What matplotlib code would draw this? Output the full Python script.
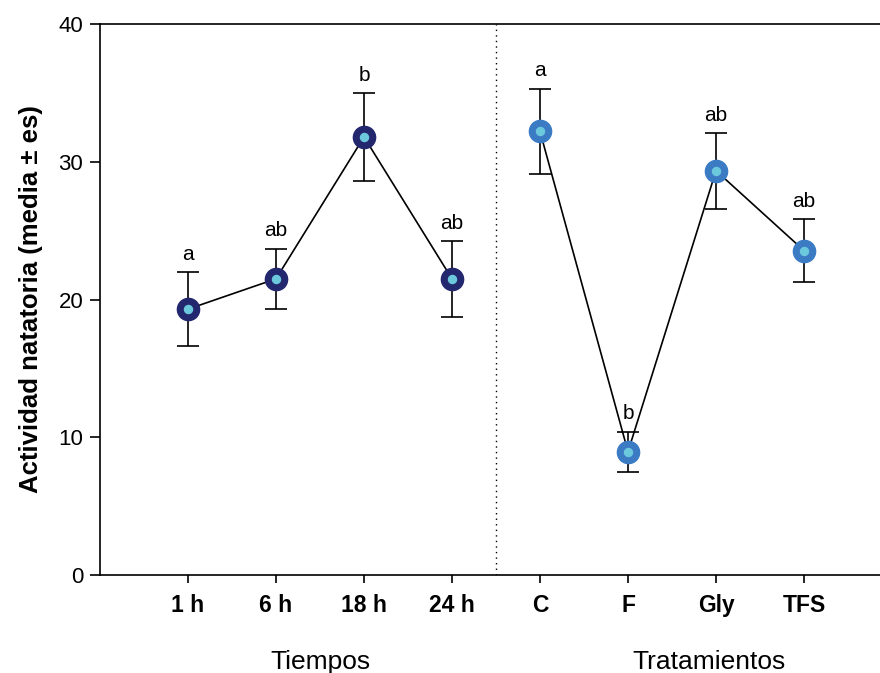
import matplotlib
matplotlib.use("Agg")
import matplotlib.pyplot as plt

plt.rcParams['font.family'] = ['Liberation Sans', 'DejaVu Sans']

tiempos = ["1 h", "6 h", "18 h", "24 h"]
tiempos_mean = [19.3, 21.5, 31.8, 21.5]
tiempos_se = [2.7, 2.2, 3.2, 2.75]
tiempos_letters = ["a", "ab", "b", "ab"]

tratamientos = ["C", "F", "Gly", "TFS"]
trat_mean = [32.2, 8.95, 29.35, 23.55]
trat_se = [3.1, 1.45, 2.75, 2.3]
trat_letters = ["a", "b", "ab", "ab"]

fig = plt.figure(figsize=(8.8, 6.73), dpi=100)
ax = fig.add_axes([100/880, 98/673, 780/880, 551/673])

x1 = [1, 2, 3, 4]
x2 = [5, 6, 7, 8]

def draw(xs, m, se, letters, outer):
    ax.errorbar(xs, m, yerr=se, fmt='none', ecolor='black', elinewidth=1.2,
                capsize=8, capthick=1.2, zorder=2)
    ax.plot(xs, m, color='black', lw=1.2, zorder=3)
    ax.plot(xs, m, 'o', ms=16, mfc=outer, mec=outer, zorder=4)
    ax.plot(xs, m, 'o', ms=5.8, mfc='#6cc8dc', mec='#6cc8dc', zorder=5)
    for x, v, s, l in zip(xs, m, se, letters):
        ax.text(x, v + s + 0.6, l, ha='center', va='bottom', fontsize=15)

draw(x1, tiempos_mean, tiempos_se, tiempos_letters, '#22276e')
draw(x2, trat_mean, trat_se, trat_letters, '#3a7bc4')

ax.axvline(4.5, color='black', lw=1, ls=(0, (1, 3)), zorder=1)

ax.set_xlim(0, 780/88)
ax.set_ylim(0, 40)
ax.set_yticks([0, 10, 20, 30, 40])
ax.set_xticks(x1 + x2)
ax.set_xticklabels(tiempos + tratamientos, fontweight='bold', fontsize=16.5)
ax.tick_params(axis='y', direction='out', length=7, width=1.2, labelsize=16, pad=5)
ax.tick_params(axis='x', direction='out', length=6, width=1.2, pad=8)
ax.spines['right'].set_visible(False)
for s in ['left', 'bottom', 'top']:
    ax.spines[s].set_linewidth(1.2)

ax.set_ylabel("Actividad natatoria (media ± es)", fontweight='bold', fontsize=18.5, labelpad=11)

ax.text(2.5, -6.3, "Tiempos", ha='center', va='center', fontsize=19)
ax.text(6.92, -6.3, "Tratamientos", ha='center', va='center', fontsize=19)

fig.savefig("out.png", dpi=100)
